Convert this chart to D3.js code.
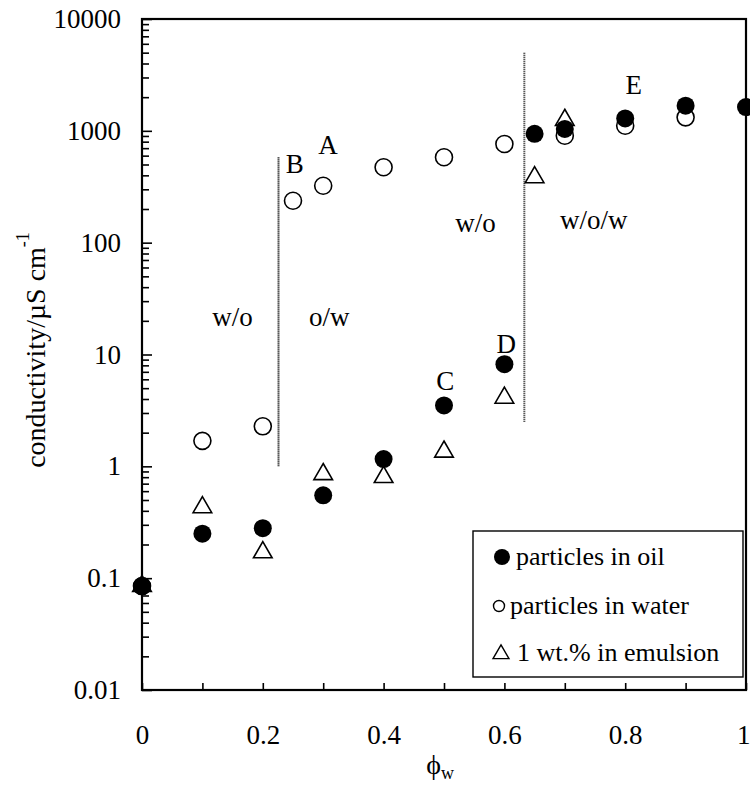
<!DOCTYPE html>
<html>
<head>
<meta charset="utf-8">
<script src="https://cdn.jsdelivr.net/npm/d3@7"></script>
<style>
  html, body { margin: 0; padding: 0; background: #fff; }
  svg { display: block; font-family: "Liberation Serif", "Times New Roman", serif; }
</style>
</head>
<body>
<svg id="chart" width="750" height="786"></svg>
<script>
// Water volume fraction and conductivity (µS cm^-1) for each series
const phiOil   = [0, 0.1, 0.2, 0.3, 0.4, 0.5, 0.6, 0.65, 0.7, 0.8, 0.9, 1.0];
const condOil  = [0.085, 0.25, 0.28, 0.55, 1.16, 3.5, 8.2, 940, 1040, 1290, 1680, 1630];

const phiWater  = [0, 0.1, 0.2, 0.25, 0.3, 0.4, 0.5, 0.6, 0.7, 0.8, 0.9];
const condWater = [0.085, 1.69, 2.28, 237, 323, 472, 580, 762, 905, 1110, 1320];

const phiEmul  = [0, 0.1, 0.2, 0.3, 0.4, 0.5, 0.6, 0.65, 0.7];
const condEmul = [0.085, 0.43, 0.17, 0.85, 0.80, 1.35, 4.1, 384, 1250];

const seriesNames = ["particles in oil", "particles in water", "1 wt.% in emulsion"];

// Axis ticks
const xTicks = [0, 0.1, 0.2, 0.3, 0.4, 0.5, 0.6, 0.7, 0.8, 0.9, 1.0];
const xTickLabels = [0, 0.2, 0.4, 0.6, 0.8, 1];
const yTickLabels = [0.01, 0.1, 1, 10, 100, 1000, 10000];

// Phase boundaries (φw) with their vertical extent (conductivity)
const boundaryPhi = [0.226, 0.633];
const boundaryFrom = [1.0, 2.5];
const boundaryTo = [580, 5000];

// Region and point annotations: text, φw, conductivity
const regionText = ["w/o", "o/w", "w/o", "w/o/w"];
const regionPhi  = [0.15, 0.31, 0.552, 0.748];
const regionCond = [22, 22, 150, 160];
const pointText  = ["A", "B", "C", "D", "E"];
const pointPhi   = [0.308, 0.253, 0.502, 0.603, 0.814];
const pointCond  = [760, 510, 5.8, 12.5, 2600];

const svg = d3.select("#chart");
const plotL = 142, plotR = 746, plotT = 19, plotB = 690;

const x = d3.scaleLinear().domain([0, 1]).range([plotL, plotR]);
const y = d3.scaleLog().domain([0.01, 10000]).range([plotB, plotT]);

// Minor log ticks 2..9 within each decade
const yMinor = [];
for (let e = -2; e < 4; e++) for (let m = 2; m <= 9; m++) yMinor.push(m * Math.pow(10, e));

const yAxisMinor = svg.append("g").attr("transform", `translate(${plotL},0)`)
  .call(d3.axisLeft(y).tickValues(yMinor).tickSize(-7).tickFormat(""));
const yAxis = svg.append("g").attr("transform", `translate(${plotL},0)`)
  .call(d3.axisLeft(y).tickValues(yTickLabels).tickSize(-10).tickPadding(21)
        .tickFormat(d3.format("~g")));
const xAxisTicks = svg.append("g").attr("transform", `translate(0,${plotB})`)
  .call(d3.axisBottom(x).tickValues(xTicks).tickSize(-7).tickFormat(""));
const xAxis = svg.append("g").attr("transform", `translate(0,${plotB})`)
  .call(d3.axisBottom(x).tickValues(xTickLabels).tickSize(0).tickPadding(34)
        .tickFormat(d3.format("~g")));

[yAxisMinor, yAxis, xAxisTicks, xAxis].forEach(g => {
  g.select(".domain").remove();
  g.selectAll(".tick line").attr("stroke", "#000").attr("stroke-width", 1.6);
  g.selectAll("text").attr("fill", "#000").attr("font-size", 27)
    .attr("font-family", "Liberation Serif, serif");
});
xAxis.selectAll("text").attr("dy", "0.32em").attr("y", 45);
// keep the last label inside the page edge
xAxis.selectAll("text").filter(d => d === 1).attr("text-anchor", "end").attr("x", 4);

// Frame
svg.append("rect")
  .attr("x", plotL).attr("y", plotT)
  .attr("width", plotR - plotL).attr("height", plotB - plotT)
  .attr("fill", "none").attr("stroke", "#000").attr("stroke-width", 2.2);

// Phase boundaries
svg.append("g").selectAll("line").data(boundaryPhi).join("line")
  .attr("x1", d => x(d)).attr("x2", d => x(d))
  .attr("y1", (d, i) => y(boundaryTo[i])).attr("y2", (d, i) => y(boundaryFrom[i]))
  .attr("stroke", "#222").attr("stroke-width", 2).attr("stroke-dasharray", "1.2,0.8");

// Annotations
svg.append("g").selectAll("text").data(regionText).join("text")
  .attr("x", (d, i) => x(regionPhi[i])).attr("y", (d, i) => y(regionCond[i]))
  .attr("text-anchor", "middle").attr("dy", "0.35em")
  .attr("font-size", 27).attr("fill", "#000").text(d => d);
svg.append("g").selectAll("text").data(pointText).join("text")
  .attr("x", (d, i) => x(pointPhi[i])).attr("y", (d, i) => y(pointCond[i]))
  .attr("text-anchor", "middle").attr("dy", "0.35em")
  .attr("font-size", 27).attr("fill", "#000").text(d => d);

// Markers
const r = 8.5;
const tri = d3.symbol().type(d3.symbolTriangle).size(150);
const emul = phiEmul.map((p, i) => [p, condEmul[i]]);
const water = phiWater.map((p, i) => [p, condWater[i]]);
const oil = phiOil.map((p, i) => [p, condOil[i]]);

svg.append("g").selectAll("path").data(emul).join("path")
  .attr("d", tri)
  .attr("transform", d => `translate(${x(d[0])},${y(d[1])})`)
  .attr("fill", "#fff").attr("stroke", "#000").attr("stroke-width", 1.6);
svg.append("g").selectAll("circle").data(water).join("circle")
  .attr("cx", d => x(d[0])).attr("cy", d => y(d[1])).attr("r", r)
  .attr("fill", "#fff").attr("stroke", "#000").attr("stroke-width", 1.6);
svg.append("g").selectAll("circle").data(oil).join("circle")
  .attr("cx", d => x(d[0])).attr("cy", d => y(d[1])).attr("r", r + 0.5)
  .attr("fill", "#000");

// Axis titles
const yt = svg.append("text")
  .attr("transform", "translate(35,350) rotate(-90)")
  .attr("text-anchor", "middle").attr("font-size", 28).attr("fill", "#000");
yt.append("tspan").attr("dy", "0.35em").text("conductivity/µS cm");
yt.append("tspan").attr("font-size", 18).attr("dy", "-0.9em").text("-1");

const xt = svg.append("text")
  .attr("x", 440).attr("y", 774)
  .attr("text-anchor", "middle").attr("font-size", 28).attr("fill", "#000");
xt.append("tspan").text("ϕ");
xt.append("tspan").attr("font-size", 18).attr("dy", "0.3em").text("w");

// Legend
const lg = svg.append("g");
lg.append("rect").attr("x", 473).attr("y", 531).attr("width", 270).attr("height", 146)
  .attr("fill", "#fff").attr("stroke", "#000").attr("stroke-width", 1.4);
const rowY = [557, 606, 653];
lg.append("circle").attr("cx", 502).attr("cy", rowY[0]).attr("r", 8).attr("fill", "#000");
lg.append("circle").attr("cx", 499).attr("cy", rowY[1]).attr("r", 5.5)
  .attr("fill", "#fff").attr("stroke", "#000").attr("stroke-width", 1.4);
lg.append("path").attr("d", d3.symbol().type(d3.symbolTriangle).size(110))
  .attr("transform", `translate(501,${rowY[2] + 1})`)
  .attr("fill", "#fff").attr("stroke", "#000").attr("stroke-width", 1.4);
const textX = [516, 510, 517];
lg.selectAll("text.lbl").data(seriesNames).join("text")
  .attr("class", "lbl")
  .attr("x", (d, i) => textX[i]).attr("y", (d, i) => rowY[i]).attr("dy", "0.32em")
  .attr("font-size", 26).attr("fill", "#000").text(d => d);
</script>
</body>
</html>
